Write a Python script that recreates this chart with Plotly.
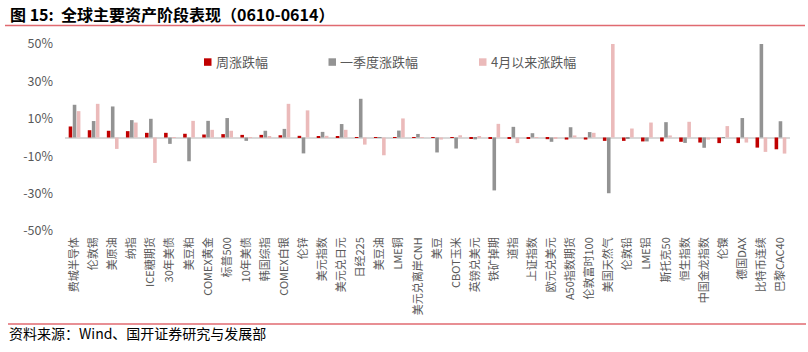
import plotly.graph_objects as go

categories = ["费城半导体", "伦敦锡", "美原油", "纳指", "ICE糖期货", "30年美债", "美豆粕", "COMEX黄金",
              "标普500", "10年美债", "韩国综指", "COMEX白银", "伦锌", "美元指数", "美元兑日元", "日经225",
              "美豆油", "LME铜", "美元兑离岸CNH", "美豆", "CBOT玉米", "英镑兑美元", "铁矿掉期", "道指",
              "上证指数", "欧元兑美元", "A50指数期货", "伦敦富时100", "美国天然气", "伦敦铅", "LME铝",
              "斯托克50", "恒生指数", "中国金龙指数", "伦镍", "德国DAX", "比特币连续", "巴黎CAC40"]

weekly = [5.9, 3.9, 3.6, 3.4, 2.5, 2.5, 2.0, 1.6, 1.8, 1.4, 1.4, 1.2, 0.9, 0.5, 0.3, 0.2,
          0.2, 0.2, 0.1, -0.1, -0.2, -0.5, -0.5, -0.5, -0.5, -0.9, -1.1, -1.1, -1.8, -1.8, -2.1,
          -2.1, -2.3, -2.7, -3.0, -3.0, -5.4, -6.3]

quarter = [17.5, 8.8, 16.6, 9.3, 10.0, -3.4, -12.7, 8.9, 10.4, -1.8, 3.6, 4.6, -8.5, 3.0, 7.2, 20.7,
           0.1, 3.7, 1.9, -8.0, -5.9, -1.0, -28.3, 5.7, 2.3, -2.3, 5.5, 2.9, -29.8, -0.3, -2.1,
           8.2, -2.9, -5.5, 0.1, 10.4, 52.0, 8.7]

since_april = [14.1, 18.0, -6.1, 8.0, -13.6, 0.1, 8.9, 4.1, 3.6, 0.1, 0.4, 18.0, 14.5, 0.9, 4.1, -3.8,
               -9.5, 10.2, 0.1, -1.1, 1.2, 0.4, 7.3, -3.0, 0.1, -0.5, 1.1, 2.5, 52.0, 4.8, 8.0,
               1.1, 8.4, -1.1, 6.1, -2.7, -7.7, -8.6]

series_names = ["周涨跌幅", "一季度涨跌幅", "4月以来涨跌幅"]
colors = ["#C00000", "#939393", "#EBBABA"]
y_ticks = [50, 30, 10, -10, -30, -50]
y_tick_text = ["50%", "30%", "10%", "-10%", "-30%", "-50%"]

# plot area geometry in pixels (for placing decorations)
L, T, W, H = 65, 44, 725, 187


def px_x(px):
    return (px - L) / W


def px_y(py):
    return 1 - (py - T) / H


fig = go.Figure()
for vals, name, col in zip([weekly, quarter, since_april], series_names, colors):
    fig.add_trace(go.Bar(x=categories, y=vals, name=name, marker_color=col,
                         marker_line_width=0, showlegend=False))

# legend drawn as small squares + text, positioned like the original
legend_marker_left = [204, 328.5, 479]
shapes = []
annotations = []
for name, col, mx in zip(series_names, colors, legend_marker_left):
    shapes.append(dict(type="rect", xref="paper", yref="paper",
                       x0=px_x(mx), x1=px_x(mx + 7.5), y0=px_y(65.8), y1=px_y(58.3),
                       fillcolor=col, line=dict(width=0)))
    annotations.append(dict(text=name, xref="paper", yref="paper", x=px_x(mx + 9.5), y=px_y(62),
                            xanchor="left", yanchor="middle", showarrow=False,
                            font=dict(family="Noto Sans CJK SC", size=13, color="#595959")))

annotations.append(dict(text="<b>图 15:  全球主要资产阶段表现（0610-0614）</b>", xref="paper", yref="paper",
                        x=px_x(8), y=px_y(14), xanchor="left", yanchor="middle",
                        showarrow=False, font=dict(family="Noto Sans CJK SC", size=16, color="#000000")))
annotations.append(dict(text="资料来源：Wind、国开证券研究与发展部", xref="paper", yref="paper",
                        x=px_x(7), y=px_y(333), xanchor="left", yanchor="middle",
                        showarrow=False, font=dict(family="Noto Sans CJK SC", size=14, color="#000000")))

shapes.append(dict(type="line", xref="paper", yref="paper", x0=px_x(5), x1=px_x(805),
                   y0=px_y(25.5), y1=px_y(25.5), line=dict(color="#E06A70", width=1.5)))
shapes.append(dict(type="line", xref="paper", yref="paper", x0=px_x(8), x1=px_x(806),
                   y0=px_y(324), y1=px_y(324), line=dict(color="#E06A70", width=1.5)))

fig.update_layout(
    width=808, height=352,
    margin=dict(l=L, r=808 - L - W, t=T, b=352 - T - H),
    paper_bgcolor="white", plot_bgcolor="white",
    barmode="group", bargap=0.36, bargroupgap=0.12,
    font=dict(family="Noto Sans CJK SC", color="#595959"),
    showlegend=False,
    xaxis=dict(showgrid=False, showline=False, ticks="", tickangle=-90,
               tickfont=dict(family="Noto Sans CJK SC", size=11, color="#595959"),
               ticklabelstandoff=3, automargin=False),
    yaxis=dict(range=[-50, 50], tickvals=y_ticks, ticktext=y_tick_text,
               showgrid=False, showline=False, ticks="",
               zeroline=True, zerolinecolor="#D9D9D9", zerolinewidth=2,
               tickfont=dict(family="Noto Sans CJK SC", size=12.5, color="#595959"),
               ticklabelstandoff=11, automargin=False),
    annotations=annotations,
    shapes=shapes,
)

fig.write_html("out.html")
